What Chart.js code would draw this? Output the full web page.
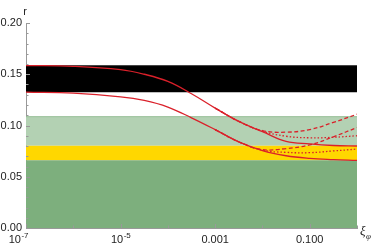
<!DOCTYPE html>
<html>
<head>
<meta charset="utf-8">
<script src="https://cdn.jsdelivr.net/npm/chart.js@4/dist/chart.umd.min.js"></script>
<style>
  html, body { margin: 0; padding: 0; background: #fff; }
  #wrap { width: 374px; height: 249px; }
</style>
</head>
<body>
<div id="wrap"><canvas id="myChart" width="374" height="249"></canvas></div>
<script>
// x positions as powers of ten
const xExp = [-7, -6, -5, -4.5, -4, -3.5, -3, -2.5, -2, -1.5, -1, -0.5, 0];

const upperSolid  = [0.1585, 0.1577, 0.1545, 0.150, 0.143, 0.131, 0.117, 0.104, 0.094, 0.0845, 0.082, 0.0805, 0.080];
const upperDotted = [null, null, null, null, null, null, 0.117, 0.104, 0.0945, 0.0895, 0.088, 0.0885, 0.090];
const upperDashed = [null, null, null, null, null, null, 0.117, 0.104, 0.095, 0.0935, 0.096, 0.103, 0.111];
const lowerSolid  = [0.1325, 0.1315, 0.128, 0.1245, 0.118, 0.1075, 0.096, 0.084, 0.0755, 0.0705, 0.068, 0.0668, 0.066];
const lowerDotted = [null, null, null, null, null, null, 0.096, 0.084, 0.076, 0.0738, 0.0735, 0.0752, 0.077];
const lowerDashed = [null, null, null, null, null, null, 0.096, 0.084, 0.0765, 0.0775, 0.081, 0.089, 0.098];

// horizontal bands: [bottom, top]
const darkGreenBand  = [0, 0.066];
const yellowBand     = [0.066, 0.0802];
const lightGreenBand = [0.0802, 0.1086];
const blackBand      = [0.1325, 0.1585];

const xLabelExps = [-7, -5, -3, -1];
const xLabels = ['10|-7', '10|-5', '0.001', '0.100'];
const yTicks = [0, 0.05, 0.10, 0.15, 0.20];

const red = 'rgb(218,32,42)';
const xMin = 1e-7, xMax = 1;

function pts(arr) {
    return arr.map((v, i) => ({ x: Math.pow(10, xExp[i]), y: v }));
}

function curve(arr, dash) {
    return {
        data: pts(arr),
        borderColor: red,
        borderWidth: 1.3,
        borderDash: dash,
        pointRadius: 0,
        fill: false,
        tension: 0.4,
        order: 0
    };
}

function band(b, color, edge) {
    return {
        data: [{ x: xMin, y: b[1] }, { x: xMax, y: b[1] }],
        borderColor: edge || 'rgba(0,0,0,0)',
        borderWidth: edge ? 1 : 0,
        backgroundColor: color,
        pointRadius: 0,
        fill: { value: b[0] },
        order: 5
    };
}

const labelsPlugin = {
    id: 'labels',
    afterDraw(chart) {
        const ctx = chart.ctx;
        const xs = chart.scales.x, ys = chart.scales.y;
        ctx.save();
        // inward ticks
        ctx.strokeStyle = '#999';
        ctx.lineWidth = 1;
        ctx.beginPath();
        for (let e = -7; e <= 0; e++) {
            const px = Math.round(xs.getPixelForValue(Math.pow(10, e))) + 0.5;
            const len = (xLabelExps.indexOf(e) >= 0) ? 4 : 2.5;
            ctx.moveTo(px, ys.bottom);
            ctx.lineTo(px, ys.bottom - len);
        }
        for (let k = 0; k <= 20; k++) {
            const py = Math.round(ys.getPixelForValue(k * 0.01)) + 0.5;
            const len = (k % 5 === 0) ? 4 : 2.5;
            ctx.moveTo(xs.left, py);
            ctx.lineTo(xs.left + len, py);
        }
        ctx.stroke();

        // x tick labels, with real superscripts
        ctx.fillStyle = '#222';
        ctx.textBaseline = 'alphabetic';
        ctx.textAlign = 'left';
        const baseY = ys.bottom + 15;
        xLabelExps.forEach((e, i) => {
            const px = xs.getPixelForValue(Math.pow(10, e));
            const parts = xLabels[i].split('|');
            ctx.font = '11px "Liberation Sans"';
            const w0 = ctx.measureText(parts[0]).width;
            let w1 = 0;
            if (parts[1]) {
                ctx.font = '8px "Liberation Sans"';
                w1 = ctx.measureText(parts[1]).width;
            }
            const total = w0 + w1;
            let left = px - total / 2;
            if (i === 0) left = px + 2 - total;
            ctx.font = '11px "Liberation Sans"';
            ctx.fillText(parts[0], left, baseY);
            if (parts[1]) {
                ctx.font = '8px "Liberation Sans"';
                ctx.fillText(parts[1], left + w0 + 0.5, baseY - 5);
            }
        });

        // axis titles
        ctx.font = '11px "Liberation Sans"';
        ctx.textAlign = 'center';
        ctx.fillText('r', xs.left - 1, 15);
        ctx.font = 'italic 13px "Liberation Serif"';
        ctx.textAlign = 'left';
        ctx.fillText('ξ', 360, 235);
        ctx.font = 'italic 9px "Liberation Serif"';
        ctx.fillText('φ', 366, 239);
        ctx.restore();
    }
};

const config = {
    type: 'line',
    data: {
        datasets: [
            curve(upperSolid, []),
            curve(upperDotted, [1.5, 2]),
            curve(upperDashed, [4, 2.5]),
            curve(lowerSolid, []),
            curve(lowerDotted, [1.5, 2]),
            curve(lowerDashed, [4, 2.5]),
            band(darkGreenBand, 'rgb(125,175,125)'),
            band(yellowBand, 'rgb(255,215,0)'),
            band(lightGreenBand, 'rgb(179,209,179)', 'rgb(150,190,150)'),
            band(blackBand, '#000', '#444')
        ]
    },
    options: {
        responsive: false,
        animation: false,
        layout: { padding: { top: 23, right: 17, left: 0, bottom: 0 } },
        plugins: {
            legend: { display: false },
            tooltip: { enabled: false }
        },
        scales: {
            x: {
                type: 'logarithmic',
                min: xMin,
                max: xMax,
                afterBuildTicks: scale => {
                    scale.ticks = xLabelExps.map(e => ({ value: Math.pow(10, e) }));
                },
                afterFit: scale => { scale.height = 21; },
                ticks: { display: false },
                grid: { display: false, drawTicks: false },
                border: { display: true, color: '#999', width: 1 }
            },
            y: {
                min: 0,
                max: 0.2,
                afterBuildTicks: scale => {
                    scale.ticks = yTicks.map(v => ({ value: v }));
                },
                afterFit: scale => { scale.width = 26; },
                ticks: {
                    padding: 4,
                    color: '#222',
                    font: { family: 'Liberation Sans', size: 11 },
                    callback: v => v.toFixed(2)
                },
                grid: { display: false, drawTicks: false },
                border: { display: true, color: '#999', width: 1 }
            }
        }
    },
    plugins: [labelsPlugin]
};

const ctx = document.getElementById('myChart').getContext('2d');
new Chart(ctx, config);
</script>
</body>
</html>
